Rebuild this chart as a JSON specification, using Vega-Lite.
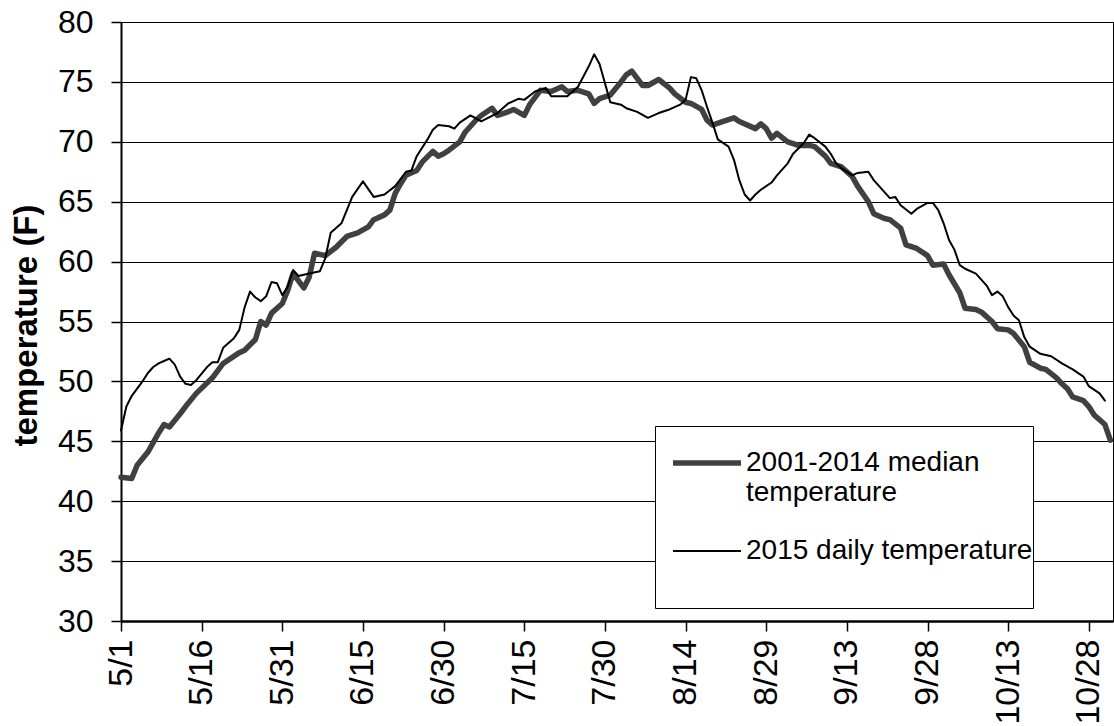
{
  "$schema": "https://vega.github.io/schema/vega-lite/v6.json",
  "width": 992,
  "height": 599,
  "autosize": {"type": "none"},
  "padding": {"left": 121, "top": 22, "right": 1, "bottom": 105},
  "background": "white",
  "config": {
    "font": "Liberation Sans",
    "view": {"stroke": "#000000", "strokeWidth": 1}
  },
  "data": {
    "values": [
      {"series":"median","day":0,"temp":42.0},{"series":"median","day":2,"temp":41.9},{"series":"median","day":3,"temp":43.0},{"series":"median","day":5,"temp":44.1},{"series":"median","day":7,"temp":45.7},{"series":"median","day":8,"temp":46.4},{"series":"median","day":9,"temp":46.2},{"series":"median","day":11,"temp":47.3},{"series":"median","day":12,"temp":47.9},{"series":"median","day":14,"temp":49.0},{"series":"median","day":17,"temp":50.3},{"series":"median","day":19,"temp":51.5},{"series":"median","day":22,"temp":52.4},{"series":"median","day":23,"temp":52.6},{"series":"median","day":25,"temp":53.5},{"series":"median","day":26,"temp":55.0},{"series":"median","day":27,"temp":54.7},{"series":"median","day":28,"temp":55.7},{"series":"median","day":30,"temp":56.5},{"series":"median","day":31,"temp":57.6},{"series":"median","day":32,"temp":59.0},{"series":"median","day":34,"temp":57.8},{"series":"median","day":35,"temp":58.7},{"series":"median","day":36,"temp":60.7},{"series":"median","day":38,"temp":60.5},{"series":"median","day":40,"temp":61.2},{"series":"median","day":42,"temp":62.1},{"series":"median","day":44,"temp":62.4},{"series":"median","day":46,"temp":62.9},{"series":"median","day":47,"temp":63.5},{"series":"median","day":49,"temp":63.9},{"series":"median","day":50,"temp":64.3},{"series":"median","day":51,"temp":65.7},{"series":"median","day":52,"temp":66.5},{"series":"median","day":53,"temp":67.2},{"series":"median","day":55,"temp":67.6},{"series":"median","day":56,"temp":68.3},{"series":"median","day":58,"temp":69.2},{"series":"median","day":59,"temp":68.8},{"series":"median","day":60,"temp":69.0},{"series":"median","day":61,"temp":69.3},{"series":"median","day":63,"temp":70.0},{"series":"median","day":64,"temp":70.8},{"series":"median","day":66,"temp":71.8},{"series":"median","day":67,"temp":72.2},{"series":"median","day":69,"temp":72.8},{"series":"median","day":70,"temp":72.2},{"series":"median","day":72,"temp":72.5},{"series":"median","day":73,"temp":72.7},{"series":"median","day":75,"temp":72.2},{"series":"median","day":76,"temp":73.1},{"series":"median","day":78,"temp":74.3},{"series":"median","day":80,"temp":74.2},{"series":"median","day":82,"temp":74.6},{"series":"median","day":83,"temp":74.2},{"series":"median","day":85,"temp":74.3},{"series":"median","day":87,"temp":74.0},{"series":"median","day":88,"temp":73.2},{"series":"median","day":89,"temp":73.6},{"series":"median","day":91,"temp":73.9},{"series":"median","day":93,"temp":75.0},{"series":"median","day":94,"temp":75.6},{"series":"median","day":95,"temp":75.9},{"series":"median","day":97,"temp":74.7},{"series":"median","day":98,"temp":74.7},{"series":"median","day":100,"temp":75.2},{"series":"median","day":102,"temp":74.5},{"series":"median","day":103,"temp":74.0},{"series":"median","day":105,"temp":73.3},{"series":"median","day":106,"temp":73.2},{"series":"median","day":108,"temp":72.7},{"series":"median","day":109,"temp":71.8},{"series":"median","day":110,"temp":71.4},{"series":"median","day":112,"temp":71.7},{"series":"median","day":114,"temp":72.0},{"series":"median","day":115,"temp":71.7},{"series":"median","day":118,"temp":71.1},{"series":"median","day":119,"temp":71.5},{"series":"median","day":120,"temp":71.1},{"series":"median","day":121,"temp":70.3},{"series":"median","day":122,"temp":70.7},{"series":"median","day":124,"temp":70.0},{"series":"median","day":126,"temp":69.7},{"series":"median","day":128,"temp":69.7},{"series":"median","day":129,"temp":69.6},{"series":"median","day":131,"temp":68.8},{"series":"median","day":132,"temp":68.2},{"series":"median","day":134,"temp":67.9},{"series":"median","day":136,"temp":67.1},{"series":"median","day":137,"temp":66.3},{"series":"median","day":139,"temp":65.0},{"series":"median","day":140,"temp":64.0},{"series":"median","day":142,"temp":63.6},{"series":"median","day":143,"temp":63.5},{"series":"median","day":145,"temp":62.8},{"series":"median","day":146,"temp":61.4},{"series":"median","day":148,"temp":61.1},{"series":"median","day":150,"temp":60.5},{"series":"median","day":151,"temp":59.7},{"series":"median","day":153,"temp":59.8},{"series":"median","day":154,"temp":58.9},{"series":"median","day":156,"temp":57.4},{"series":"median","day":157,"temp":56.1},{"series":"median","day":159,"temp":56.0},{"series":"median","day":160,"temp":55.8},{"series":"median","day":162,"temp":55.0},{"series":"median","day":163,"temp":54.4},{"series":"median","day":165,"temp":54.3},{"series":"median","day":166,"temp":54.0},{"series":"median","day":168,"temp":52.9},{"series":"median","day":169,"temp":51.6},{"series":"median","day":171,"temp":51.1},{"series":"median","day":172,"temp":51.0},{"series":"median","day":174,"temp":50.3},{"series":"median","day":175,"temp":49.8},{"series":"median","day":176,"temp":49.4},{"series":"median","day":177,"temp":48.7},{"series":"median","day":179,"temp":48.4},{"series":"median","day":180,"temp":47.9},{"series":"median","day":181,"temp":47.2},{"series":"median","day":183,"temp":46.4},{"series":"median","day":184,"temp":45.1},
      {"series":"daily","day":0,"temp":45.9},{"series":"daily","day":1,"temp":47.9},{"series":"daily","day":2,"temp":48.8},{"series":"daily","day":3,"temp":49.4},{"series":"daily","day":4,"temp":50.0},{"series":"daily","day":5,"temp":50.7},{"series":"daily","day":6,"temp":51.2},{"series":"daily","day":7,"temp":51.5},{"series":"daily","day":8,"temp":51.7},{"series":"daily","day":9,"temp":51.9},{"series":"daily","day":10,"temp":51.4},{"series":"daily","day":11,"temp":50.4},{"series":"daily","day":12,"temp":49.8},{"series":"daily","day":13,"temp":49.7},{"series":"daily","day":14,"temp":50.1},{"series":"daily","day":16,"temp":51.2},{"series":"daily","day":17,"temp":51.6},{"series":"daily","day":18,"temp":51.6},{"series":"daily","day":19,"temp":52.8},{"series":"daily","day":21,"temp":53.6},{"series":"daily","day":22,"temp":54.3},{"series":"daily","day":23,"temp":56.2},{"series":"daily","day":24,"temp":57.5},{"series":"daily","day":25,"temp":57.0},{"series":"daily","day":26,"temp":56.7},{"series":"daily","day":27,"temp":57.1},{"series":"daily","day":28,"temp":58.3},{"series":"daily","day":29,"temp":58.2},{"series":"daily","day":30,"temp":57.2},{"series":"daily","day":31,"temp":57.9},{"series":"daily","day":32,"temp":59.3},{"series":"daily","day":33,"temp":58.8},{"series":"daily","day":35,"temp":59.0},{"series":"daily","day":37,"temp":59.2},{"series":"daily","day":38,"temp":60.3},{"series":"daily","day":39,"temp":62.4},{"series":"daily","day":41,"temp":63.2},{"series":"daily","day":43,"temp":65.4},{"series":"daily","day":45,"temp":66.7},{"series":"daily","day":47,"temp":65.4},{"series":"daily","day":49,"temp":65.6},{"series":"daily","day":51,"temp":66.3},{"series":"daily","day":53,"temp":67.5},{"series":"daily","day":54,"temp":67.6},{"series":"daily","day":55,"temp":68.8},{"series":"daily","day":57,"temp":70.2},{"series":"daily","day":58,"temp":71.0},{"series":"daily","day":59,"temp":71.4},{"series":"daily","day":61,"temp":71.3},{"series":"daily","day":62,"temp":71.1},{"series":"daily","day":63,"temp":71.6},{"series":"daily","day":65,"temp":72.2},{"series":"daily","day":67,"temp":71.7},{"series":"daily","day":70,"temp":72.4},{"series":"daily","day":72,"temp":73.2},{"series":"daily","day":74,"temp":73.6},{"series":"daily","day":75,"temp":73.5},{"series":"daily","day":77,"temp":74.2},{"series":"daily","day":79,"temp":74.5},{"series":"daily","day":80,"temp":73.8},{"series":"daily","day":83,"temp":73.8},{"series":"daily","day":84,"temp":74.2},{"series":"daily","day":85,"temp":74.6},{"series":"daily","day":87,"temp":76.3},{"series":"daily","day":88,"temp":77.3},{"series":"daily","day":89,"temp":76.5},{"series":"daily","day":90,"temp":74.9},{"series":"daily","day":91,"temp":73.3},{"series":"daily","day":93,"temp":73.1},{"series":"daily","day":94,"temp":72.8},{"series":"daily","day":96,"temp":72.5},{"series":"daily","day":98,"temp":72.0},{"series":"daily","day":100,"temp":72.4},{"series":"daily","day":102,"temp":72.7},{"series":"daily","day":104,"temp":73.1},{"series":"daily","day":105,"temp":73.5},{"series":"daily","day":106,"temp":75.4},{"series":"daily","day":107,"temp":75.3},{"series":"daily","day":108,"temp":74.3},{"series":"daily","day":109,"temp":72.9},{"series":"daily","day":110,"temp":71.6},{"series":"daily","day":111,"temp":70.2},{"series":"daily","day":113,"temp":69.6},{"series":"daily","day":114,"temp":68.5},{"series":"daily","day":115,"temp":66.8},{"series":"daily","day":116,"temp":65.6},{"series":"daily","day":117,"temp":65.1},{"series":"daily","day":118,"temp":65.6},{"series":"daily","day":119,"temp":66.0},{"series":"daily","day":121,"temp":66.6},{"series":"daily","day":122,"temp":67.2},{"series":"daily","day":124,"temp":68.2},{"series":"daily","day":125,"temp":69.0},{"series":"daily","day":127,"temp":69.9},{"series":"daily","day":128,"temp":70.6},{"series":"daily","day":129,"temp":70.3},{"series":"daily","day":131,"temp":69.6},{"series":"daily","day":132,"temp":69.0},{"series":"daily","day":133,"temp":68.2},{"series":"daily","day":134,"temp":67.8},{"series":"daily","day":136,"temp":67.2},{"series":"daily","day":137,"temp":67.4},{"series":"daily","day":139,"temp":67.5},{"series":"daily","day":140,"temp":66.8},{"series":"daily","day":142,"temp":65.8},{"series":"daily","day":143,"temp":65.3},{"series":"daily","day":144,"temp":65.4},{"series":"daily","day":145,"temp":64.7},{"series":"daily","day":147,"temp":64.0},{"series":"daily","day":148,"temp":64.4},{"series":"daily","day":150,"temp":64.9},{"series":"daily","day":151,"temp":64.9},{"series":"daily","day":152,"temp":64.3},{"series":"daily","day":153,"temp":63.2},{"series":"daily","day":154,"temp":61.8},{"series":"daily","day":155,"temp":61.0},{"series":"daily","day":156,"temp":59.7},{"series":"daily","day":157,"temp":59.4},{"series":"daily","day":159,"temp":59.0},{"series":"daily","day":161,"temp":58.0},{"series":"daily","day":162,"temp":57.2},{"series":"daily","day":163,"temp":57.5},{"series":"daily","day":164,"temp":57.1},{"series":"daily","day":165,"temp":56.2},{"series":"daily","day":166,"temp":55.5},{"series":"daily","day":167,"temp":55.1},{"series":"daily","day":168,"temp":53.7},{"series":"daily","day":169,"temp":52.9},{"series":"daily","day":171,"temp":52.3},{"series":"daily","day":173,"temp":52.1},{"series":"daily","day":175,"temp":51.5},{"series":"daily","day":177,"temp":51.0},{"series":"daily","day":179,"temp":50.4},{"series":"daily","day":180,"temp":49.6},{"series":"daily","day":182,"temp":49.0},{"series":"daily","day":183,"temp":48.4}
    ]
  },
  "mark": {"type": "line", "strokeJoin": "round", "strokeCap": "round"},
  "encoding": {
    "x": {
      "field": "day",
      "type": "quantitative",
      "scale": {"domain": [0, 184.5], "nice": false, "zero": false},
      "axis": {
        "title": null,
        "values": [0, 15, 30, 45, 60, 75, 90, 105, 120, 135, 150, 165, 180],
        "labelExpr": "timeFormat(datetime(2015, 4, 1 + datum.value), '%-m/%-d')",
        "labelAngle": 270,
        "labelFontSize": 34,
        "labelColor": "#000000",
        "labelPadding": 8,
        "labelFlush": false,
        "labelOverlap": false,
        "tickSize": 10,
        "tickColor": "#000000",
        "tickWidth": 1.5,
        "domainColor": "#000000",
        "domainWidth": 2.5,
        "grid": false
      }
    },
    "y": {
      "field": "temp",
      "type": "quantitative",
      "scale": {"domain": [30, 80], "nice": false, "zero": false},
      "axis": {
        "title": "temperature (F)",
        "titleFontSize": 33,
        "titleFontWeight": "bold",
        "titleColor": "#000000",
        "titleAngle": 270,
        "titleAlign": "center",
        "titleBaseline": "middle",
        "titleX": -95,
        "titleY": 303,
        "values": [30, 35, 40, 45, 50, 55, 60, 65, 70, 75, 80],
        "labelFontSize": 32,
        "labelColor": "#000000",
        "labelPadding": 18,
        "tickSize": 10,
        "tickColor": "#000000",
        "tickWidth": 1.5,
        "domainColor": "#000000",
        "domainWidth": 2,
        "grid": true,
        "gridColor": "#000000",
        "gridWidth": 1.2
      }
    },
    "color": {
      "field": "series",
      "type": "nominal",
      "sort": ["median", "daily"],
      "scale": {"domain": ["median", "daily"], "range": ["#404040", "#000000"]},
      "legend": {
        "orient": "none",
        "legendX": 534,
        "legendY": 404,
        "title": " ",
        "titleOrient": "bottom",
        "titleFontSize": 24,
        "titlePadding": 19,
        "symbolType": "stroke",
        "symbolSize": 4624,
        "symbolOffset": 15,
        "labelExpr": "datum.value == 'median' ? ['2001-2014 median', 'temperature'] : '2015 daily temperature'",
        "labelFontSize": 28,
        "labelColor": "#000000",
        "labelOffset": 2,
        "labelLimit": 500,
        "rowPadding": 9,
        "padding": 0,
        "strokeColor": "#000000",
        "fillColor": "#ffffff"
      }
    },
    "strokeWidth": {
      "field": "series",
      "type": "nominal",
      "sort": ["median", "daily"],
      "scale": {"domain": ["median", "daily"], "range": [5.5, 2]},
      "legend": {
        "orient": "none",
        "legendX": 534,
        "legendY": 404,
        "title": " ",
        "titleOrient": "bottom",
        "titleFontSize": 24,
        "titlePadding": 19,
        "symbolType": "stroke",
        "symbolSize": 4624,
        "symbolOffset": 15,
        "labelExpr": "datum.value == 'median' ? ['2001-2014 median', 'temperature'] : '2015 daily temperature'",
        "labelFontSize": 28,
        "labelColor": "#000000",
        "labelOffset": 2,
        "labelLimit": 500,
        "rowPadding": 9,
        "padding": 0,
        "strokeColor": "#000000",
        "fillColor": "#ffffff"
      }
    }
  }
}
